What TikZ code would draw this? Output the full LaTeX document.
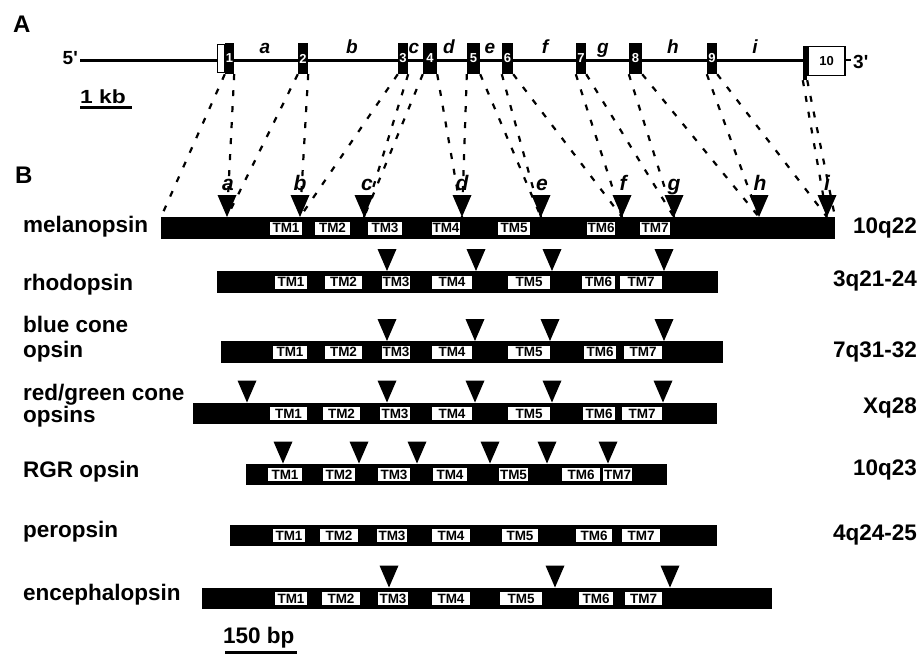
\documentclass[tikz,border=0pt]{standalone}
\usepackage{fontspec}
\setmainfont{Liberation Sans}[Ligatures=TeXOff]
\tikzset{
  lab/.style={inner sep=0pt, anchor=base west, font=\fontsize{22.5}{24}\selectfont\bfseries},
  chrom/.style={inner sep=0pt, anchor=base east, font=\fontsize{22.5}{24}\selectfont\bfseries},
  panel/.style={inner sep=0pt, anchor=base west, font=\fontsize{24}{24}\selectfont\bfseries},
  tmbox/.style={fill=white, inner sep=0pt, minimum height=13pt, font=\fontsize{13.5}{13.5}\selectfont\bfseries},
  exon/.style={fill=black, inner sep=0pt, minimum height=31pt, text=white, font=\fontsize{13}{13}\selectfont\bfseries},
  link/.style={line width=2.2pt, dash pattern=on 6pt off 10pt},
  intron/.style={inner sep=0pt, anchor=base, font=\fontsize{19}{19}\selectfont\bfseries\itshape},
  site/.style={inner sep=0pt, anchor=base, font=\fontsize{21}{21}\selectfont\bfseries\itshape},
  tri/.pic={\fill (-9.5,-22) -- (9.5,-22) -- (0,0) -- cycle;},
}
\newcommand\opsinbar[5]{%
  \fill (#2,#4) rectangle (#3,#4+21.5);
  \foreach \a/\b/\t in {#5} {
    \node[tmbox, minimum width={\b-\a}] (#1-\t) at ({(\a+\b)/2},#4+11) {\t};
  }
}
\begin{document}
\begin{tikzpicture}[x=1pt,y=-1pt]
\useasboundingbox (0,0) rectangle (921,654);
\fill[white] (0,0) rectangle (921,654);

% ---------------- Panel A ----------------
\node[panel] (A) at (13,32) {A};
\node[inner sep=0pt, anchor=base east, font=\fontsize{19}{19}\selectfont\bfseries] (p5) at (78,64) {5'};
\coordinate (g5) at (80,60);
\node[fill=black, inner sep=0pt, minimum width=4pt, minimum height=34pt] (e10c) at (805,63) {};
\draw[line width=3pt] (g5) -- (g5 -| e10c.west);
% exons
\node[exon, minimum width=9pt] (e1) at (229.5,58.5) {1};
\node[exon, minimum width=10pt] (e2) at (303,58.5) {2};
\node[exon, minimum width=10pt] (e3) at (403,58.5) {3};
\node[exon, minimum width=14pt] (e4) at (430,58.5) {4};
\node[exon, minimum width=13pt] (e5) at (473.5,58.5) {5};
\node[exon, minimum width=11pt] (e6) at (507.5,58.5) {6};
\node[exon, minimum width=10pt] (e7) at (581,58.5) {7};
\node[exon, minimum width=13pt] (e8) at (635.5,58.5) {8};
\node[exon, minimum width=10pt] (e9) at (712,58.5) {9};
\node[draw=black, fill=white, line width=1.2pt, inner sep=0pt, minimum width=7.5pt, minimum height=28pt] (e1u) at (221,58.5) {};
\node[draw=black, fill=white, line width=1.6pt, inner sep=0pt, minimum width=37pt, minimum height=29pt, font=\fontsize{13}{13}\selectfont\bfseries] (e10) at (826.5,61) {10};
\coordinate (tick3) at (851,60);
\draw[line width=1.6pt] (e10.east |- tick3) -- (tick3);
\node[inner sep=0pt, anchor=base west, font=\fontsize{19}{19}\selectfont\bfseries] (p3) at (853,68) {3'};
% intron labels
\foreach \x/\l in {265/a,352/b,414/c,449/d,490/e,545/f,603/g,673/h,755/i}
  \node[intron] (in-\l) at (\x,53) {\l};
% scale bar 1 kb
\node[inner sep=0pt, anchor=base west, font=\fontsize{19}{19}\selectfont\bfseries] (kb) at (80,103) {\scalebox{1.2}[1]{1 kb}};
\coordinate (kbL) at (80,107.5);
\coordinate (kbR) at (132,107.5);
\draw[line width=3pt] (kbL) -- (kbR);

% ---------------- Panel B ----------------
\node[panel] (B) at (15,183) {B};
\coordinate (melL) at (161,217);
\coordinate (melR) at (835,217);
\foreach \x/\l in {227/a,300/b,364/c,462/d,541/e,622/f,674/g,759/h,827/i}
  \coordinate (t\l) at (\x,217);
% dashed links from exon boundaries to splice sites
\draw[link] (e1.south west) -- (melL);
\draw[link] (e1.south east) -- (ta);
\draw[link] (e2.south west) -- (ta);
\draw[link] (e2.south east) -- (tb);
\draw[link] (e3.south west) -- (tb);
\draw[link] (e3.south east) -- (tc);
\draw[link] (e4.south west) -- (tc);
\draw[link] (e4.south east) -- (td);
\draw[link] (e5.south west) -- (td);
\draw[link] (e5.south east) -- (te);
\draw[link] (e6.south west) -- (te);
\draw[link] (e6.south east) -- (tf);
\draw[link] (e7.south west) -- (tf);
\draw[link] (e7.south east) -- (tg);
\draw[link] (e8.south west) -- (tg);
\draw[link] (e8.south east) -- (th);
\draw[link] (e9.south west) -- (th);
\draw[link] (e9.south east) -- (ti);
\draw[link] (e10c.south west) -- (ti);
\draw[link] (e10c.south east) -- (melR);

% melanopsin
\opsinbar{mel}{161}{835}{217}{270/302/TM1,315/350/TM2,368/402/TM3,432/460/TM4,498/530/TM5,587/615/TM6,640/670/TM7}
\foreach \l in {a,b,c,d,e,f,g,h,i} \pic at (t\l) {tri};
\foreach \x/\l in {228/a,300/b,367/c,462/d,542/e,623/f,674/g,760/h,827/i}
  \node[site] (s-\l) at (\x,190) {\l};
\node[lab] (n-mel) at (23,232) {melanopsin};
\node[chrom] (c-mel) at (917,233) {10q22};

% rhodopsin
\opsinbar{rho}{217}{718}{271}{275/307/TM1,325/362/TM2,382/410/TM3,432/472/TM4,508/550/TM5,582/615/TM6,620/662/TM7}
\foreach \x in {387,476,552,664} \pic at (\x,271) {tri};
\node[lab] (n-rho) at (23,290) {rhodopsin};
\node[chrom] (c-rho) at (917,286) {3q21-24};

% blue cone opsin
\opsinbar{blue}{221}{723}{341}{273/307/TM1,325/362/TM2,382/410/TM3,432/472/TM4,508/550/TM5,584/616/TM6,624/662/TM7}
\foreach \x in {387,475,550,664} \pic at (\x,341) {tri};
\node[lab] (n-blue1) at (23,332) {blue cone};
\node[lab] (n-blue2) at (23,357) {opsin};
\node[chrom] (c-blue) at (917,357) {7q31-32};

% red/green cone opsins
\opsinbar{rg}{193}{717}{402.5}{270/307/TM1,323/360/TM2,380/410/TM3,432/472/TM4,508/550/TM5,583/615/TM6,622/662/TM7}
\foreach \x in {247,387,475,552,663} \pic at (\x,402.5) {tri};
\node[lab] (n-rg1) at (23,400) {red/green cone};
\node[lab] (n-rg2) at (23,422) {opsins};
\node[chrom] (c-rg) at (917,413) {Xq28};

% RGR opsin
\opsinbar{rgr}{246}{667}{463.5}{268/302/TM1,323/355/TM2,378/410/TM3,433/467/TM4,499/528/TM5,562/600/TM6,603/632/TM7}
\foreach \x in {283,359,417,490,547,608} \pic at (\x,463.5) {tri};
\node[lab] (n-rgr) at (23,477) {RGR opsin};
\node[chrom] (c-rgr) at (917,475) {10q23};

% peropsin
\opsinbar{per}{230}{717}{524.5}{273/305/TM1,320/358/TM2,377/407/TM3,432/470/TM4,502/538/TM5,576/612/TM6,622/660/TM7}
\node[lab] (n-per) at (23,537) {peropsin};
\node[chrom] (c-per) at (917,540) {4q24-25};

% encephalopsin
\opsinbar{enc}{202}{772}{587.5}{275/307/TM1,322/360/TM2,378/408/TM3,432/470/TM4,500/542/TM5,579/613/TM6,625/662/TM7}
\foreach \x in {389,555,670} \pic at (\x,587.5) {tri};
\node[lab] (n-enc) at (23,600) {encephalopsin};

% scale bar 150 bp
\node[lab] (bp) at (223,643) {150 bp};
\coordinate (bpL) at (225,652.5);
\coordinate (bpR) at (297,652.5);
\draw[line width=3pt] (bpL) -- (bpR);
\end{tikzpicture}
\end{document}
